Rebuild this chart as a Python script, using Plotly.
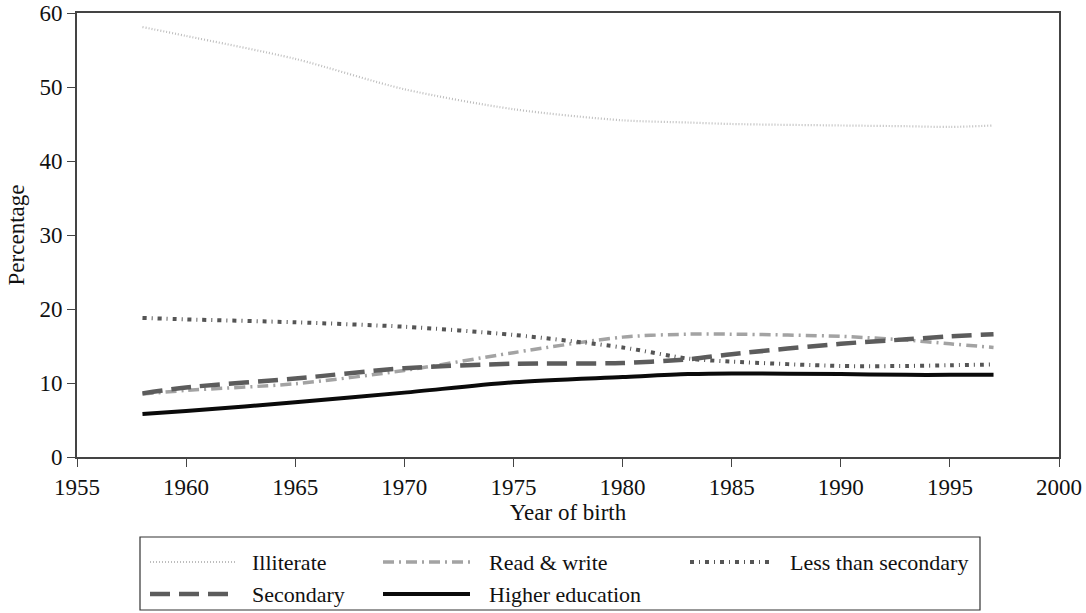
import plotly.graph_objects as go

# Share of each education level by year of birth
years = [1958, 1960, 1965, 1970, 1975, 1980, 1983, 1985, 1990, 1993, 1995, 1997]
illiterate = [58.1, 56.9, 53.8, 49.7, 47.0, 45.5, 45.2, 45.0, 44.8, 44.7, 44.6, 44.8]
read_write = [8.5, 9.0, 9.9, 11.7, 14.1, 16.2, 16.6, 16.6, 16.3, 15.8, 15.3, 14.8]
less_secondary = [18.8, 18.6, 18.2, 17.6, 16.5, 14.8, 13.3, 12.9, 12.3, 12.3, 12.4, 12.5]
secondary = [8.6, 9.4, 10.6, 12.0, 12.6, 12.7, 13.2, 13.9, 15.3, 15.9, 16.3, 16.6]
higher = [5.8, 6.2, 7.4, 8.7, 10.1, 10.8, 11.2, 11.3, 11.2, 11.1, 11.1, 11.1]

x_ticks = [1955, 1960, 1965, 1970, 1975, 1980, 1985, 1990, 1995, 2000]
y_ticks = [0, 10, 20, 30, 40, 50, 60]

series = [
    ("Illiterate", illiterate, "#bdbdbd", 2.2, "1px,2px"),
    ("Read & write", read_write, "#a3a3a3", 3.5, "11px,5px,2px,5px"),
    ("Less than secondary", less_secondary, "#555555", 4, "4px,5px,1px,5px"),
    ("Secondary", secondary, "#5c5c5c", 4.5, "20px,9px"),
    ("Higher education", higher, "#0a0a0a", 4, "solid"),
]

FONT = "Liberation Serif"
W, H = 1086, 613
L, R, T, B = 77, 27, 13, 156
PW, PH = W - L - R, H - T - B


def px(x):
    return (x - L) / PW


def py(y):
    return (H - B - y) / PH


fig = go.Figure()
for name, vals, color, width, dash in series:
    fig.add_trace(go.Scatter(
        x=years, y=vals, mode="lines", name=name, showlegend=False,
        line=dict(color=color, width=width, dash=dash, shape="spline", smoothing=0.8),
    ))

# Legend drawn as a framed key below the axes
shapes = [dict(type="rect", xref="paper", yref="paper",
               x0=px(140), x1=px(980), y0=py(537), y1=py(610),
               line=dict(color="#333333", width=1.2), fillcolor="rgba(0,0,0,0)")]
annotations = []
slots = [(150, 236, 250, 562), (383, 470, 487, 562), (690, 772, 788, 562),
         (150, 236, 250, 594), (383, 470, 487, 594)]
for (name, _, color, width, dash), (sx0, sx1, tx, ty) in zip(series, slots):
    shapes.append(dict(type="line", xref="paper", yref="paper",
                       x0=px(sx0), x1=px(sx1), y0=py(ty), y1=py(ty),
                       line=dict(color=color, width=width, dash=dash)))
    annotations.append(dict(xref="paper", yref="paper", x=px(tx), y=py(ty),
                            text=name, showarrow=False, xanchor="left", yanchor="middle",
                            font=dict(family=FONT, size=22, color="#111111")))

axis_common = dict(
    ticks="outside", ticklen=8, tickwidth=1.3, tickcolor="#444444",
    showgrid=False, zeroline=False, showline=True, linecolor="#444444",
    linewidth=2, mirror=True, automargin=False, ticklabeloverflow="allow",
    tickfont=dict(family=FONT, size=23, color="#111111"),
)

fig.update_layout(
    width=W, height=H,
    margin=dict(l=L, r=R, t=T, b=B),
    paper_bgcolor="white", plot_bgcolor="white",
    font=dict(family=FONT, size=23, color="#111111"),
    shapes=shapes, annotations=annotations,
    xaxis=dict(
        range=[1955, 2000], tickvals=x_ticks,
        title=dict(text="Year of birth", standoff=0, font=dict(family=FONT, size=23)),
        **axis_common,
    ),
    yaxis=dict(
        range=[0, 60], tickvals=y_ticks,
        title=dict(text="Percentage", standoff=8, font=dict(family=FONT, size=23)),
        **axis_common,
    ),
)

fig.write_html("out.html")
